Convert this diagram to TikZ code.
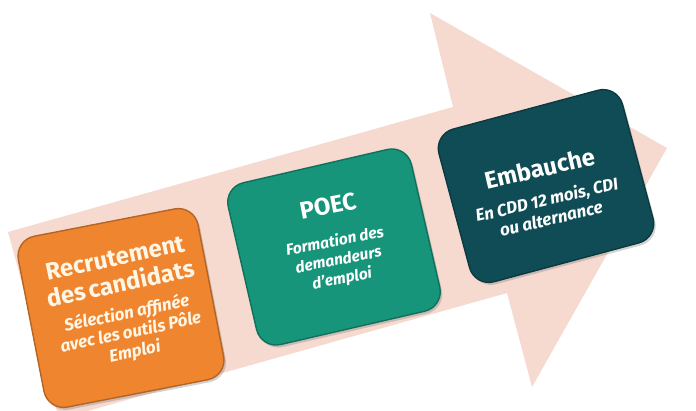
\documentclass[tikz,border=0pt]{standalone}
\usepackage{fontspec}
\setmainfont{Fira Sans}
\usetikzlibrary{shadows}
\definecolor{arrowpink}{HTML}{F6D9CF}
\definecolor{orangebox}{HTML}{F0852F}
\definecolor{greenbox}{HTML}{17957A}
\definecolor{tealbox}{HTML}{0F4C56}
\definecolor{creamtext}{HTML}{FFF6E6}
\newcommand\cardtitle{\bfseries\fontsize{24}{26.5}\selectfont}
\newcommand\cardsub[2]{\bfseries\itshape\fontsize{#1}{#2}\selectfont}
\tikzset{
  stepcard/.style={rounded corners=20pt, fill=#1, draw=#1!75!black, line width=1.4pt,
    drop shadow={shadow xshift=2pt, shadow yshift=-2.5pt, opacity=0.35}},
  cardtext/.style={text width=190pt, align=center, text=#1, inner sep=0pt},
}
\begin{document}
\begin{tikzpicture}[x=1pt,y=-1pt]
  \useasboundingbox (0,0) rectangle (696,411);
  \clip (0,0) rectangle (696,411);
  % big arrow
  \fill[arrowpink] (8,232) -- (453,107) -- (430,13) -- (667,148) -- (532,387) -- (507,293) -- (59,419) -- cycle;
  % cards
  \node[stepcard=orangebox, rotate=11, minimum width=183pt, minimum height=174pt] (c1) at (121,308) {};
  \node[stepcard=greenbox, rotate=13, minimum width=188pt, minimum height=166pt] (c2) at (334,247) {};
  \node[stepcard=tealbox, rotate=15, minimum width=190pt, minimum height=158pt] (c3) at (546,186) {};
  % texts
  \node[cardtext=creamtext, rotate=12] (t1) at (125,305) {{\cardtitle Recrutement\\des candidats\par}\vspace{8pt}{\cardsub{17}{19.5} Sélection affinée\\avec les outils Pôle\\Emploi\par}};
  \node[cardtext=white, rotate=11] (t2) at (335,242) {{\cardtitle POEC\par}\vspace{14pt}{\cardsub{15.5}{19} Formation des\\demandeurs\\d’emploi\par}};
  \node[cardtext=white, rotate=13] (t3) at (545,192) {{\cardtitle Embauche\par}\vspace{10pt}{\cardsub{17}{19.5} En CDD 12 mois, CDI\\ou alternance\par}};
\end{tikzpicture}
\end{document}
